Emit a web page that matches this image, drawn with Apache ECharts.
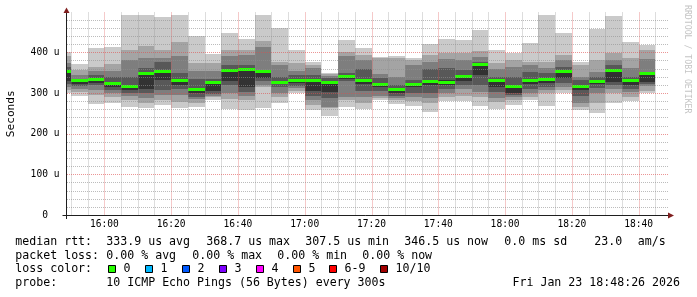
<!DOCTYPE html>
<html><head><meta charset="utf-8">
<script src="https://cdn.jsdelivr.net/npm/echarts@6/dist/echarts.min.js"></script>
<style>html,body{margin:0;padding:0;background:#fff}#c{width:697px;height:297px}</style>
</head><body><div id="c"></div><script>
// ---- data (microseconds) ----
const slotEnd = ['15:50','15:55','16:00','16:05','16:10','16:15','16:20','16:25','16:30','16:35','16:40','16:45','16:50','16:55','17:00','17:05','17:10','17:15','17:20','17:25','17:30','17:35','17:40','17:45','17:50','17:55','18:00','18:05','18:10','18:15','18:20','18:25','18:30','18:35','18:40','18:45'];
const ping1 = [300,293,273,275,266,263,270,263,265,283,260,257,264,276,299,258,244,265,261,283,272,268,254,280,280,269,260,270,284,269,299,257,252,275,281,299];
const ping2 = [308,303,295,289,283,275,283,279,276,289,285,283,316,290,305,271,262,283,275,288,282,280,275,290,293,290,277,282,291,299,307,266,275,299,291,304];
const ping3 = [316,311,307,299,293,287,295,295,285,293,300,292,320,300,312,283,265,291,290,293,288,290,287,300,311,303,287,290,299,307,316,275,299,311,303,317];
const ping4 = [322,317,320,307,300,300,307,310,291,298,320,303,330,316,318,293,287,330,305,305,293,300,299,311,320,320,303,295,311,316,324,293,312,320,311,322];
const ping5 = [330,322,325,316,307,311,332,320,300,306,330,315,337,322,325,305,303,335,322,315,300,314,320,320,330,344,315,300,322,324,336,307,322,328,320,328];
const ping6 = [355,333,336,326,318,350,356,332,313,326,357,361,350,330,334,330,328,342,333,324,309,325,332,332,344,372,333,318,333,336,354,318,330,357,333,348];
const ping7 = [365,335,344,340,340,361,377,350,334,335,368,370,356,340,344,344,336,349,359,336,320,333,358,361,356,376,340,340,352,350,365,332,340,369,340,352];
const ping8 = [375,344,354,354,381,385,386,390,353,354,391,393,414,370,355,361,342,391,381,347,340,370,377,383,381,389,358,365,369,361,381,340,352,381,361,383];
const ping9 = [390,357,365,371,407,415,407,425,373,373,407,406,428,377,375,369,346,402,393,385,386,380,393,398,399,403,373,381,377,377,393,369,381,398,385,407];
const ping10 = [400,371,411,414,493,493,486,493,439,396,448,433,492,461,407,377,350,430,411,388,391,385,420,433,430,455,406,398,424,493,447,377,458,489,425,419];
const median = [352,332,334,324,316,348,354,330,309,327,356,359,354,326,331,332,326,341,331,322,308,321,328,327,341,370,332,317,330,333,352,317,328,356,330,347];
const timeLabels = ['16:00','16:20','16:40','17:00','17:20','17:40','18:00','18:20','18:40'];
const yTickLabels = [0,100,200,300,400];
const lossLegend = [['0','#26ff00'],['1','#00b8ff'],['2','#0059ff'],['3','#7e00ff'],['4','#ff00ff'],['5','#ff5500'],['6-9','#ff0000'],['10/10','#a10000']];

// ---- helpers ----
const toMin = s => { const p = s.split(':').map(Number); return p[0]*60 + p[1]; };
const X_MIN = toMin('15:48') + 0.8, X_MAX = X_MIN + 180;
const Y_MAX = 498;
const MONO = "'DejaVu Sans Mono', monospace";
const SHADES = ['#cacaca','#a4a4a4','#7e7e7e','#585858','#323232'];
const pings = [ping1,ping2,ping3,ping4,ping5,ping6,ping7,ping8,ping9,ping10];
const smokeData = slotEnd.map((t,i) => [toMin(t)-5, toMin(t)].concat(pings.map(p => p[i]), [median[i]]));

const gridData = [];
for (let t = toMin('15:50'); t < X_MAX; t += 5) gridData.push([0, t, t % 20 === 0 ? 1 : 0]);
for (let v = 20; v < Y_MAX; v += 20) gridData.push([1, v, v % 100 === 0 ? 1 : 0]);

const fmtTime = m => String(Math.floor(m/60)).padStart(2,'0') + ':' + String(m%60).padStart(2,'0');

const chart = echarts.init(document.getElementById('c'), null, {renderer:'canvas'});

function txt(x, y, s, opt) {
  opt = opt || {};
  return {type:'text', x:x, y:y, rotation: opt.rot || 0, z: 100, silent:true,
    style:{text:s, font:(opt.size||11.6)+'px '+MONO, fill: opt.color||'#000',
      align: opt.align||'left', textAlign: opt.align||'left', verticalAlign:'middle', textVerticalAlign:'middle'}};
}

const graphics = [];
// axis lines & arrows
graphics.push({type:'line', z:90, silent:true, shape:{x1:66.5,y1:219,x2:66.5,y2:12}, style:{stroke:'#1f1f1f', lineWidth:1}});
graphics.push({type:'line', z:90, silent:true, shape:{x1:62.5,y1:215.5,x2:669,y2:215.5}, style:{stroke:'#1f1f1f', lineWidth:1}});
graphics.push({type:'polygon', z:91, silent:true, shape:{points:[[63.5,13],[69.5,13],[66.5,7.5]]}, style:{fill:'#801f1f'}});
graphics.push({type:'polygon', z:91, silent:true, shape:{points:[[668,212.5],[668,218.5],[674,215.5]]}, style:{fill:'#801f1f'}});
// titles
graphics.push(txt(11, 113.75, 'Seconds', {rot: Math.PI/2, align:'center', size:11.2}));
graphics.push(txt(687, 5, 'RRDTOOL / TOBI OETIKER', {rot: -Math.PI/2, align:'left', size:8.2, color:'#c4c4c4'}));
// legend rows
const rows = [
  [241.5, [[16,'median rtt:'],[107,'333.9 us avg'],[207,'368.7 us max'],[306,'307.5 us min'],[405,'346.5 us now'],[505,'0.0 ms sd'],[595,'23.0'],[638.5,'am/s']]],
  [255.5, [[16,'packet loss:'],[107,'0.00 % avg'],[193,'0.00 % max'],[278,'0.00 % min'],[363,'0.00 % now']]],
  [269.2, [[16,'loss color:']]],
  [283, [[16,'probe:'],[107,'10 ICMP Echo Pings (56 Bytes) every 300s']]]
];
rows.forEach(r => r[1].forEach(it => graphics.push(txt(it[0]-0.7, r[0], it[1]))));
graphics.push(txt(680, 283, 'Fri Jan 23 18:48:26 2026', {align:'right'}));
const boxX = [108.5,145.5,182.5,219.5,256.5,293.5,329.5,380.5];
lossLegend.forEach((l,i) => {
  graphics.push({type:'rect', z:100, silent:true, shape:{x:boxX[i], y:265.5, width:7, height:7}, style:{fill:l[1], stroke:'#000', lineWidth:1}});
  graphics.push(txt(boxX[i]+15, 269.2, l[0]));
});

chart.setOption({
  backgroundColor:'#ffffff',
  animation:false,
  grid:{left:67, right:29, top:12.5, bottom:82, containLabel:false},
  xAxis:{type:'value', min:X_MIN, max:X_MAX,
    axisLine:{show:false}, axisTick:{show:false}, splitLine:{show:false},
    axisLabel:{customValues: timeLabels.map(toMin), formatter: v => fmtTime(v), fontFamily:MONO, fontSize:9.6, color:'#000', margin:4.5}},
  yAxis:{type:'value', min:0, max:Y_MAX, interval:100,
    axisLine:{show:false}, axisTick:{show:false}, splitLine:{show:false},
    axisLabel:{customValues: yTickLabels, formatter: v => v === 0 ? '0  ' : v + ' u', fontFamily:MONO, fontSize:9.6, color:'#000', margin:7.5}},
  graphic: graphics,
  series:[
    {type:'custom', z:2, silent:true, data: smokeData,
      renderItem(params, api){
        const cs = params.coordSys;
        const s = api.value(0), e = api.value(1);
        const left = Math.max(cs.x, Math.round(api.coord([s,0])[0]));
        const right = Math.round(api.coord([e,0])[0]);
        const ch = [];
        for (let b = 0; b < 5; b++) {
          const lo = api.value(2+b), hi = api.value(11-b);
          const yTop = Math.round(api.coord([s,hi])[1]), yBot = Math.round(api.coord([s,lo])[1]);
          ch.push({type:'rect', shape:{x:left, y:yTop, width:right-left, height:yBot-yTop}, style:{fill:SHADES[b]}});
        }
        const ym = api.coord([s, api.value(12)])[1];
        ch.push({type:'rect', shape:{x:left, y:Math.round(ym-1.5), width:right-left, height:3}, style:{fill:'#26ff00'}});
        return {type:'group', children:ch};
      }},
    {type:'custom', z:3, silent:true, data: gridData,
      renderItem(params, api){
        const cs = params.coordSys;
        const dir = api.value(0), v = api.value(1), major = api.value(2);
        let shape;
        if (dir === 0) { const x = Math.round(api.coord([v,0])[0]) + 0.5; shape = {x1:x, y1:cs.y, x2:x, y2:cs.y+cs.height}; }
        else { const y = Math.round(api.coord([X_MIN,v])[1]) + 0.5; shape = {x1:cs.x, y1:y, x2:cs.x+cs.width, y2:y}; }
        return {type:'line', shape:shape, style:{stroke: major ? 'rgba(222,79,79,0.6)' : 'rgba(143,143,143,0.6)', lineWidth:1, lineDash:[1,1]}};
      }}
  ]
});
</script></body></html>
